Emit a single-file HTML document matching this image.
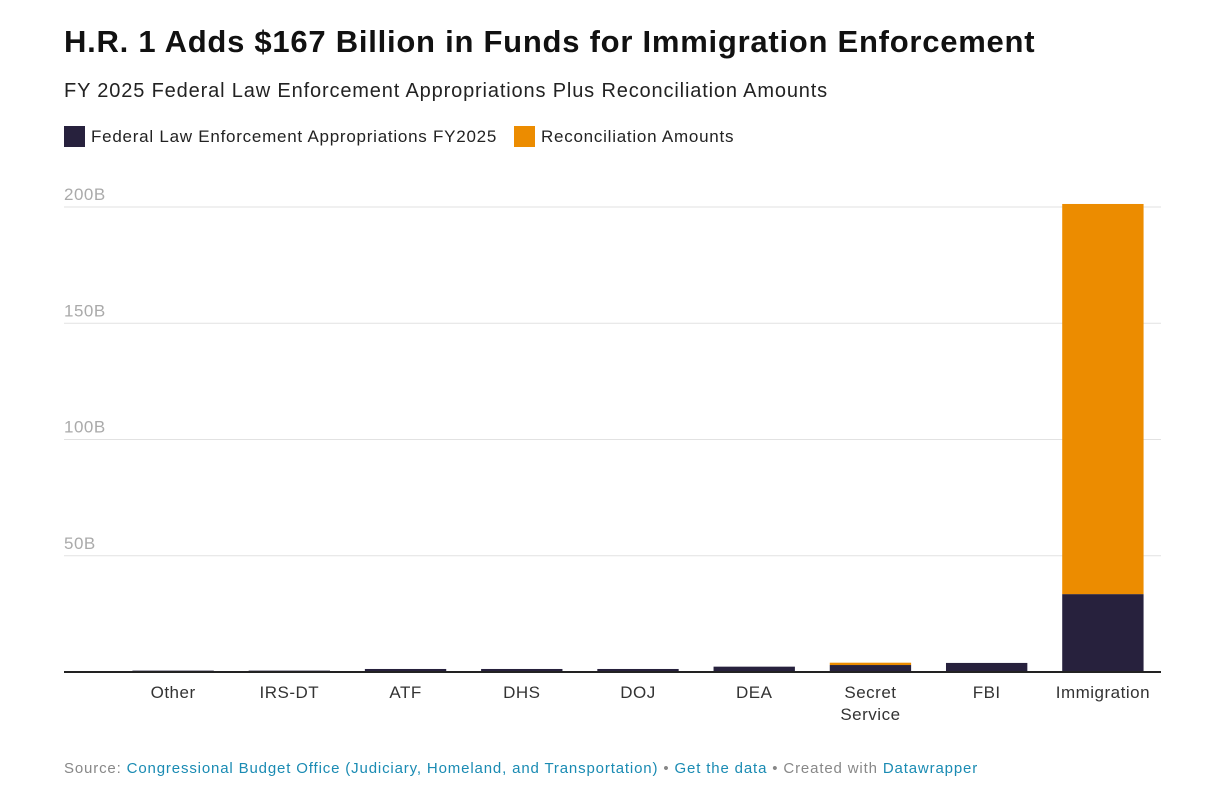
<!DOCTYPE html>
<html><head><meta charset="utf-8"><style>
body{margin:0;background:#fff;width:1216px;height:809px;overflow:hidden;font-family:"Liberation Sans",Arial,sans-serif}
.t{position:absolute;left:64px;top:24px;font-size:31px;font-weight:bold;color:#111;letter-spacing:0.75px;white-space:nowrap}
.s{position:absolute;left:64px;top:80px;font-size:20px;color:#222;letter-spacing:0.85px;white-space:nowrap}
.lg{position:absolute;top:126px;font-size:17px;color:#222;display:flex;align-items:center;letter-spacing:0.75px;white-space:nowrap}
.sw{width:21px;height:21px;display:inline-block;margin-right:6px}
.f{position:absolute;left:64px;top:760px;font-size:15px;color:#888;letter-spacing:0.85px;white-space:nowrap}
.f a{color:#1a8bb3;text-decoration:none}
</style></head><body>
<div class="t">H.R. 1 Adds $167 Billion in Funds for Immigration Enforcement</div>
<div class="s">FY 2025 Federal Law Enforcement Appropriations Plus Reconciliation Amounts</div>
<div class="lg" style="left:64px"><span class="sw" style="background:#27213d"></span>Federal Law Enforcement Appropriations FY2025</div>
<div class="lg" style="left:514px"><span class="sw" style="background:#ec8c00"></span>Reconciliation Amounts</div>
<svg id="c" width="1216" height="809" style="position:absolute;left:0;top:0"></svg>
<div class="f">Source: <a>Congressional Budget Office (Judiciary, Homeland, and Transportation)</a> • <a>Get the data</a> • Created with <a>Datawrapper</a></div>
<script>
const categories=["Other","IRS-DT","ATF","DHS","DOJ","DEA","Secret Service","FBI","Immigration"];
const appropriations=[0.6,0.6,1.3,1.3,1.3,2.3,3.0,3.9,33.5];
const reconciliation=[0,0,0,0,0,0,1.0,0,167.8];
const ticks=[50,100,150,200];
const tickLabels=["50B","100B","150B","200B"];
const svg=document.getElementById('c');const NS="http://www.w3.org/2000/svg";
const y0=672,yTop=207,x0=115,x1=1161;
const y=v=>y0-(v/200)*(y0-yTop);
const bw=(x1-x0)/categories.length;
function el(t,a,p){const e=document.createElementNS(NS,t);for(const k in a)e.setAttribute(k,a[k]);(p||svg).appendChild(e);return e;}
ticks.forEach((t,i)=>{
const g=el('line',{x1:64,x2:1161,y1:y(t),y2:y(t),stroke:'#e2e2e2'});


const tx=el('text',{x:64,y:y(t)-7,'font-size':17,fill:'#aaa','font-family':'Liberation Sans','letter-spacing':0.5});
tx.textContent=tickLabels[i];


});
categories.forEach((c,i)=>{
const cx=x0+bw*(i+0.5),w=bw*0.7;
const a=appropriations[i],r=reconciliation[i];
const b=el('rect',{x:cx-w/2,y:y(a),width:w,height:y0-y(a),fill:'#27213d'});


if(r>0){const o=el('rect',{x:cx-w/2,y:y(a+r),width:w,height:y(a)-y(a+r),fill:'#ec8c00'});

}
const parts=c==="Secret Service"?["Secret","Service"]:[c];
parts.forEach((p,j)=>{const t=el('text',{x:cx,y:698+j*22,'font-size':17,fill:'#333','text-anchor':'middle','font-family':'Liberation Sans','letter-spacing':0.5});t.textContent=p;

});
});
const ax=el('line',{x1:64,x2:1161,y1:y0,y2:y0,stroke:'#222','stroke-width':2});


</script>
</body></html>
